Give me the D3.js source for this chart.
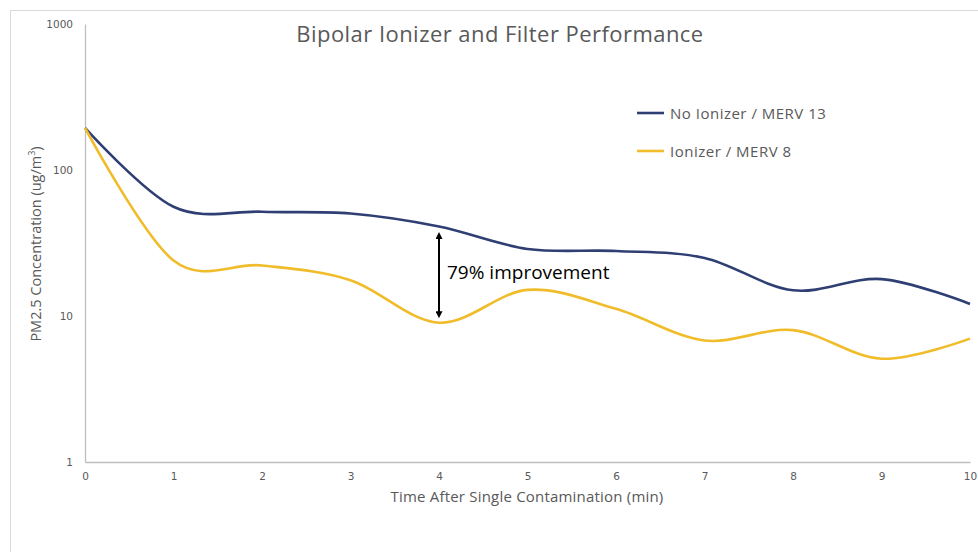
<!DOCTYPE html>
<html>
<head>
<meta charset="utf-8">
<script src="https://cdn.jsdelivr.net/npm/d3@7"></script>
<style>
  body { margin: 0; background: #fff; }
  text { font-family: "Open Sans", Lato, sans-serif; }
</style>
</head>
<body>
<svg width="978" height="552"></svg>
<script>
// time after contamination (min)
var minutes = [0, 1, 2, 3, 4, 5, 6, 7, 8, 9, 10];
// PM2.5 concentration, ug/m3
var noIonizer = [194, 56, 51.8, 50.3, 41, 28.8, 27.9, 25, 15, 17.9, 12.1];
var ionizer = [194, 24, 22.2, 17.6, 9, 15.1, 11.2, 6.8, 8, 5.1, 7];
var seriesNames = ["No Ionizer / MERV 13", "Ionizer / MERV 8"];
var seriesColors = ["#2f3f74", "#f0bc2a"];
var yTicks = [1, 10, 100, 1000];

var svg = d3.select("svg"),
  width = +svg.attr("width"),
  height = +svg.attr("height");

var grey = "#595959";

// chart frame (runs off the page on right and bottom)
svg.append("rect")
  .attr("x", 10.5).attr("y", 10.5)
  .attr("width", 1000).attr("height", 600)
  .attr("fill", "none")
  .attr("stroke", "#d9d9d9");

var x = d3.scaleLinear().domain([0, 10]).range([85, 970]);
var y = d3.scaleLog().domain([1, 1000]).range([462, 24]);

// axes
var xAxis = svg.append("g")
  .attr("transform", "translate(0,462)")
  .call(d3.axisBottom(x).tickValues(minutes).tickSize(0).tickPadding(11));
var yAxis = svg.append("g")
  .attr("transform", "translate(85,0)")
  .call(d3.axisLeft(y).tickValues(yTicks).tickFormat(d3.format("d")).tickSize(0).tickPadding(12));

[xAxis, yAxis].forEach(function (a) {
  a.select(".domain").attr("stroke", "#bfbfbf").attr("stroke-width", 1.3);
  a.selectAll("text")
    .attr("fill", grey)
    .style("font-family", "'DejaVu Sans', Verdana, sans-serif")
    .style("font-size", "10.5px");
});

// title + axis titles
svg.append("text")
  .attr("x", 500).attr("y", 42)
  .attr("text-anchor", "middle")
  .attr("fill", grey)
  .style("font-size", "22px")
  .style("letter-spacing", "0.45px")
  .text("Bipolar Ionizer and Filter Performance");

svg.append("text")
  .attr("x", 527).attr("y", 502)
  .attr("text-anchor", "middle")
  .attr("fill", grey)
  .style("font-size", "15px")
  .style("letter-spacing", "0.2px")
  .text("Time After Single Contamination (min)");

var yLab = svg.append("text")
  .attr("transform", "translate(41,244) rotate(-90)")
  .attr("text-anchor", "middle")
  .attr("fill", grey)
  .style("font-size", "14.5px");
yLab.append("tspan").text("PM2.5 Concentration (ug/m");
yLab.append("tspan").attr("baseline-shift", "super").style("font-size", "9px").text("3");
yLab.append("tspan").text(")");

// lines
var line = d3.line()
  .x(function (d, i) { return x(minutes[i]); })
  .y(function (d) { return y(d); })
  .curve(d3.curveCatmullRom.alpha(0));

[noIonizer, ionizer].forEach(function (s, i) {
  svg.append("path")
    .datum(s)
    .attr("fill", "none")
    .attr("stroke", seriesColors[i])
    .attr("stroke-width", 2.6)
    .attr("d", line);
});

// legend
var legend = svg.append("g").attr("transform", "translate(637,113)");
seriesNames.forEach(function (n, i) {
  var g = legend.append("g").attr("transform", "translate(0," + i * 38 + ")");
  g.append("line")
    .attr("x1", 0).attr("x2", 27)
    .attr("stroke", seriesColors[i]).attr("stroke-width", 2.6);
  g.append("text")
    .attr("x", 33).attr("y", 5.5)
    .attr("fill", grey)
    .style("font-size", "15px")
    .style("letter-spacing", "0.5px")
    .text(n);
});

// improvement annotation at 4 min
svg.append("defs").append("marker")
  .attr("id", "tip")
  .attr("viewBox", "0 0 10 10")
  .attr("refX", 5).attr("refY", 5)
  .attr("markerWidth", 3.5).attr("markerHeight", 3.5)
  .attr("orient", "auto-start-reverse")
  .append("path").attr("d", "M0,0L10,5L0,10z").attr("fill", "#000");

svg.append("line")
  .attr("x1", x(4)).attr("x2", x(4))
  .attr("y1", y(noIonizer[4]) + 9).attr("y2", y(ionizer[4]) - 8)
  .attr("stroke", "#000").attr("stroke-width", 2)
  .attr("marker-start", "url(#tip)")
  .attr("marker-end", "url(#tip)");

svg.append("text")
  .attr("x", x(4) + 8).attr("y", 279)
  .attr("fill", "#000")
  .style("font-size", "19px")
  .text("79% improvement");
</script>
</body>
</html>
